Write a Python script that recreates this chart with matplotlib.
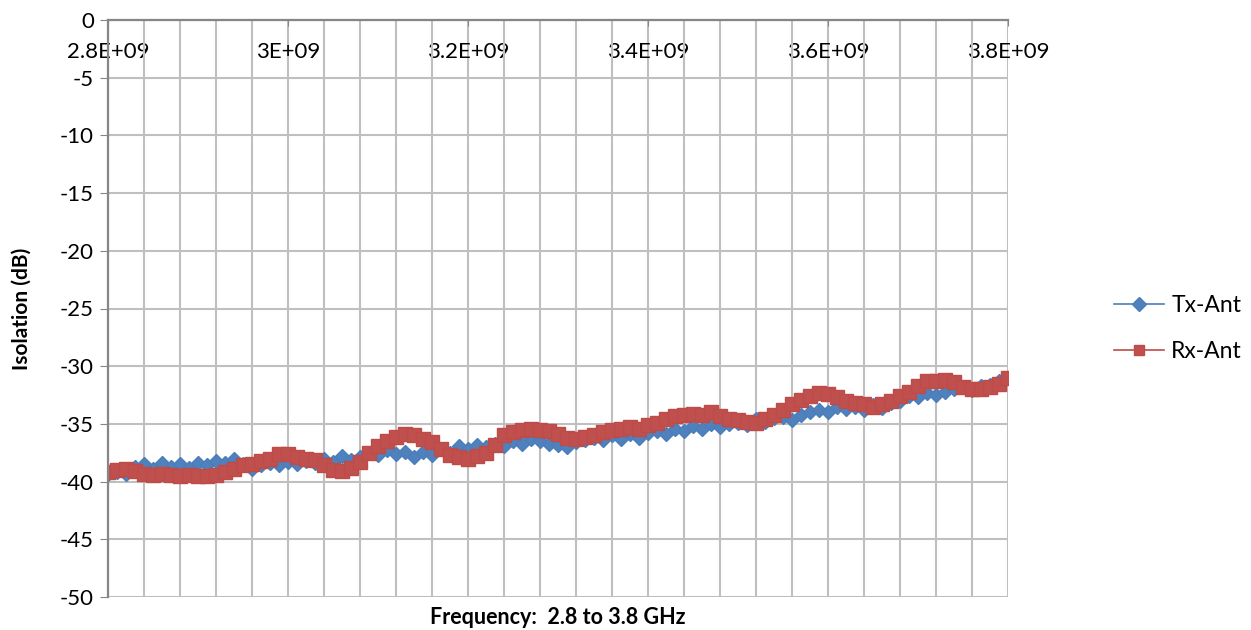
import numpy as np
import matplotlib.pyplot as plt
from matplotlib.ticker import MultipleLocator, FixedLocator, FixedFormatter

plt.rcParams['font.family'] = ['Lato', 'DejaVu Sans']
plt.rcParams['axes.unicode_minus'] = False

# frequency sweep, 2.8 to 3.8 GHz in 10 MHz steps
freq = np.linspace(2.8e9, 3.8e9, 101)

tx_ant = [-39.3, -39.2, -39.3, -38.7, -38.5, -38.9, -38.4, -38.7, -38.5, -38.8,
          -38.4, -38.6, -38.2, -38.4, -38.0, -38.5, -38.9, -38.6, -38.4, -38.6,
          -38.3, -38.5, -38.2, -38.4, -38.0, -38.3, -37.8, -38.1, -37.9, -37.5,
          -37.7, -37.3, -37.6, -37.4, -37.9, -37.4, -37.7, -37.2, -37.5, -36.9,
          -37.2, -36.8, -37.0, -36.7, -36.9, -36.5, -36.7, -36.3, -36.5, -36.7,
          -36.8, -37.0, -36.6, -36.4, -36.2, -36.4, -36.0, -36.3, -35.9, -36.2,
          -35.8, -35.6, -35.9, -35.4, -35.6, -35.2, -35.4, -35.0, -35.3, -35.0,
          -34.9, -35.1, -34.6, -34.8, -34.5, -34.4, -34.7, -34.2, -34.0, -33.8,
          -34.0, -33.5, -33.7, -33.5, -33.8, -33.4, -33.6, -33.2, -33.0, -32.6,
          -32.7, -32.3, -32.5, -32.2, -32.0, -31.8, -32.1, -31.7, -31.6, -31.3,
          -31.0]

rx_ant = [-39.2, -39.0, -38.9, -39.1, -39.3, -39.4, -39.3, -39.4, -39.5, -39.4,
          -39.5, -39.5, -39.4, -39.2, -38.9, -38.6, -38.5, -38.2, -38.0, -37.6,
          -37.6, -37.9, -38.0, -38.1, -38.6, -39.0, -39.1, -38.8, -38.3, -37.5,
          -36.9, -36.5, -36.1, -35.9, -36.0, -36.3, -36.6, -37.2, -37.7, -37.9,
          -38.0, -37.8, -37.5, -36.8, -36.0, -35.7, -35.5, -35.4, -35.5, -35.6,
          -35.9, -36.2, -36.3, -36.1, -36.0, -35.7, -35.5, -35.4, -35.3, -35.4,
          -35.1, -34.9, -34.6, -34.3, -34.2, -34.1, -34.2, -34.0, -34.3, -34.6,
          -34.7, -34.8, -34.9, -34.6, -34.2, -33.8, -33.3, -32.9, -32.6, -32.3,
          -32.4, -32.7, -33.0, -33.2, -33.3, -33.5, -33.3, -33.0, -32.6, -32.2,
          -31.7, -31.3, -31.3, -31.2, -31.4, -31.8, -32.0, -32.0, -31.8, -31.5,
          -31.0]

x_ticks = [2.8e9, 3.0e9, 3.2e9, 3.4e9, 3.6e9, 3.8e9]
x_tick_labels = ['2.8E+09', '3E+09', '3.2E+09', '3.4E+09', '3.6E+09', '3.8E+09']

fig = plt.figure(figsize=(12.51, 6.30), dpi=100)
ax = fig.add_axes([108 / 1251, 33 / 630, 900 / 1251, 577 / 630])

ax.plot(freq, tx_ant, color='#4a7ebb', lw=2, marker='D', ms=7.5,
        mfc='#4f81bd', mec='#4a7ebb', label='Tx-Ant')
ax.plot(freq, rx_ant, color='#be4b48', lw=2, marker='s', ms=9.5,
        mfc='#c0504d', mec='#be4b48', label='Rx-Ant')

ax.set_xlim(2.8e9, 3.8e9)
ax.set_ylim(-50, 0)
ax.yaxis.set_major_locator(MultipleLocator(5))
ax.xaxis.set_major_locator(FixedLocator(x_ticks))
ax.xaxis.set_major_formatter(FixedFormatter(x_tick_labels))
ax.xaxis.set_minor_locator(MultipleLocator(0.04e9))

ax.grid(True, which='both', color='#bfbfbf', lw=1.5)
ax.set_axisbelow(True)

for side in ['right', 'bottom']:
    ax.spines[side].set_visible(False)
ax.spines['top'].set_color('#868686')
ax.spines['top'].set_linewidth(1.6)
ax.spines['left'].set_color('#868686')
ax.spines['left'].set_linewidth(1.6)

ax.tick_params(axis='x', which='major', bottom=False, top=True, labelbottom=False,
               labeltop=True, direction='in', length=4, color='#868686',
               pad=-30, labelsize=16)
ax.tick_params(axis='x', which='minor', bottom=False, top=False)
ax.tick_params(axis='y', direction='out', length=6, color='#868686', labelsize=16, pad=4)

ax.set_ylabel('Isolation (dB)', fontsize=15, fontweight='bold')
ax.yaxis.set_label_coords(-0.085, 0.5)
ax.set_xlabel('Frequency:  2.8 to 3.8 GHz', fontsize=15.5, fontweight='bold')
ax.xaxis.set_label_coords(0.5, -0.018)

leg = fig.legend(loc='center left', bbox_to_anchor=(1114 / 1251, 0.479), frameon=False,
                 fontsize=16.5, handlelength=2.2, labelspacing=1.1, handletextpad=0.3,
                 borderpad=0, borderaxespad=0)
for h in leg.legend_handles:
    h.set_linewidth(1.2)
    h.set_markersize(7)

fig.savefig('out.png', dpi=100)
